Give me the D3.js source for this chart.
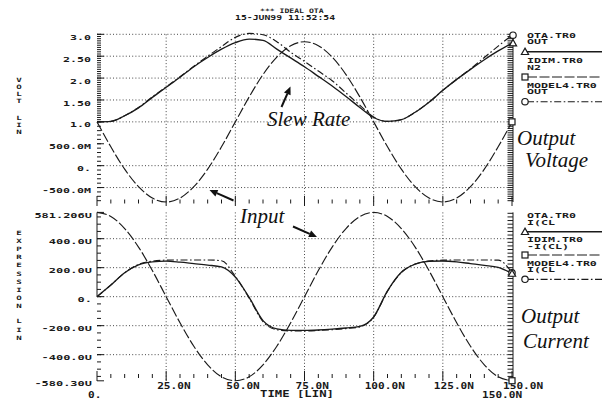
<!DOCTYPE html>
<html><head><meta charset="utf-8">
<script src="https://cdn.jsdelivr.net/npm/d3@7"></script>
<style>
html,body{margin:0;padding:0;background:#fff;}
svg{display:block;}
.mono{font-family:"DejaVu Sans Mono",monospace;font-weight:bold;fill:#1a1a1a;}
.ann{font-family:"Liberation Serif","Times New Roman",serif;font-style:italic;fill:#111;font-size:21px;}
</style></head><body>
<svg id="chart" width="602" height="401"></svg>
<script>
// ---- data ----
const time = [0,5,10,15,20,25,30,35,40,45,50,55,60,65,70,75,80,85,90,95,100,105,110,115,120,125,130,135,140,145,150];
const idimN2 = [1.00,0.43,-0.08,-0.48,-0.74,-0.83,-0.74,-0.48,-0.08,0.43,1.00,1.57,2.08,2.48,2.74,2.83,2.74,2.48,2.08,1.57,1.00,0.43,-0.08,-0.48,-0.74,-0.83,-0.74,-0.48,-0.08,0.43,1.00];
const otaOut = [1.00,1.01,1.14,1.32,1.56,1.79,2.02,2.26,2.47,2.66,2.81,2.89,2.86,2.66,2.46,2.26,2.04,1.82,1.58,1.33,1.10,1.01,1.05,1.22,1.45,1.72,1.97,2.20,2.42,2.62,2.80];
const model4Out = [1.00,1.01,1.14,1.33,1.57,1.80,2.03,2.27,2.50,2.72,2.93,3.02,2.99,2.83,2.59,2.38,2.16,1.94,1.66,1.38,1.11,1.01,1.05,1.22,1.45,1.72,1.97,2.21,2.47,2.73,2.98];
const otaI = [0,80,165,220,240,245,238,228,218,205,135,-5,-165,-222,-232,-233,-230,-224,-216,-205,-140,40,168,224,244,246,240,228,216,202,160];
const idimI = [581,553,470,342,180,0,-180,-342,-470,-553,-580,-553,-470,-342,-180,0,180,342,470,553,581,553,470,342,180,0,-180,-342,-470,-553,-580];
const model4I = [0,80,165,222,245,252,253,253,253,248,140,-10,-172,-228,-236,-236,-233,-228,-220,-208,-142,38,166,225,246,252,253,253,253,252,165];

const xTickVals = [25,50,75,100,125,150];
const xTickLabels = ["25.0N","50.0N","75.0N","100.0N","125.0N","150.0N"];
const topTickVals = [3.0,2.5,2.0,1.5,1.0,0.5,0,-0.5];
const topTickLabels = ["3.0","2.50","2.0","1.50","1.0","500.0M","0.","-500.0M"];
const topGridVals = [3.0,2.5,2.0,1.5,1.0,0,-0.5];
const botTickVals = [581.206,400,200,0,-200,-400,-580.3];
const botTickLabels = ["581.206U","400.0U","200.0U","0.","-200.0U","-400.0U","-580.30U"];
const botGridVals = [400,200,0,-200,-400];
const gridTimes = [25,50,75,100,125];

const svg = d3.select("#chart");
const ink = "#1a1a1a";

const x = d3.scaleLinear().domain([0,150]).range([97,512]);
const yTop = d3.scaleLinear().domain([-0.83,3.0]).range([202,34.3]);
const yBot = d3.scaleLinear().domain([-580.3,581.206]).range([380.8,212.4]);

function mono(str, px, py, size, cw, anchor) {
  const n = str.length;
  const sx = cw/(0.602*size);
  let x0 = px;
  if (anchor === "end") x0 = px - n*cw;
  else if (anchor === "middle") x0 = px - n*cw/2;
  svg.append("text").attr("class","mono")
    .attr("transform",`translate(${x0},${py}) scale(${sx},1)`)
    .attr("font-size",size).text(str);
}

// ---- grids ----
const grid = svg.append("g").attr("stroke","#333").attr("stroke-width",0.9).attr("stroke-dasharray","1,2.2");
topGridVals.forEach(v => grid.append("line").attr("x1",x(0)).attr("x2",x(150)).attr("y1",yTop(v)).attr("y2",yTop(v)));
gridTimes.forEach(t => grid.append("line").attr("x1",x(t)).attr("x2",x(t)).attr("y1",yTop(3.0)).attr("y2",yTop(-0.83)));
botGridVals.forEach(v => grid.append("line").attr("x1",x(0)).attr("x2",x(150)).attr("y1",yBot(v)).attr("y2",yBot(v)));
gridTimes.forEach(t => grid.append("line").attr("x1",x(t)).attr("x2",x(t)).attr("y1",yBot(581.206)).attr("y2",yBot(-580.3)));

// ---- axis ticks ----
const tk = svg.append("g").attr("stroke",ink).attr("stroke-width",1);
d3.range(0,151,5).forEach(t => {
  const major = t % 25 === 0;
  tk.append("line").attr("x1",x(t)).attr("x2",x(t)).attr("y1",major?196:199.5).attr("y2",major?206:203.5);
  tk.append("line").attr("x1",x(t)).attr("x2",x(t)).attr("y1",major?371:374).attr("y2",major?381:378);
});
d3.range(-0.8,3.001,0.05).forEach(v => {
  const vv = Math.round(v*100)/100;
  if (vv < 1 && Math.round(vv*100) % 10 !== 0) return;
  tk.append("line").attr("x1",x(0)).attr("x2",x(0)+4).attr("y1",yTop(vv)).attr("y2",yTop(vv));
});
topTickVals.forEach(v => tk.append("line").attr("x1",x(0)).attr("x2",x(0)+7).attr("y1",yTop(v)).attr("y2",yTop(v)));
d3.range(-0.8,3.001,0.05).forEach(v => tk.append("line").attr("x1",x(150)-4.5).attr("x2",x(150)+1).attr("y1",yTop(v)).attr("y2",yTop(v)));
tk.append("line").attr("x1",x(150)+1).attr("x2",x(150)+1).attr("y1",yTop(3.0)).attr("y2",yTop(-0.83));
d3.range(-550,581,50).forEach(v => tk.append("line").attr("x1",x(0)).attr("x2",x(0)+4).attr("y1",yBot(v)).attr("y2",yBot(v)));
botTickVals.forEach(v => tk.append("line").attr("x1",x(0)).attr("x2",x(0)+7).attr("y1",yBot(v)).attr("y2",yBot(v)));
tk.append("line").attr("x1",x(0)).attr("x2",x(0)).attr("y1",yBot(581.206)).attr("y2",yBot(0));
d3.range(-575,581,25).forEach(v => tk.append("line").attr("x1",x(150)-4.5).attr("x2",x(150)+1).attr("y1",yBot(v)).attr("y2",yBot(v)));
tk.append("line").attr("x1",x(150)+1).attr("x2",x(150)+1).attr("y1",yBot(581.206)).attr("y2",yBot(-580.3));

// ---- tick labels ----
topTickVals.forEach((v,i) => mono(topTickLabels[i], 91, yTop(v)+5.6, 7.3, 7, "end"));
botTickVals.forEach((v,i) => mono(botTickLabels[i], 92, yBot(v)+5.6, 7.3, 7.2, "end"));
xTickVals.forEach((t,i) => mono(xTickLabels[i], x(t)-9, 388.5, 8.2, 6.7, "start"));
mono("0.", 88, 397.5, 8.2, 6.7, "start");
mono("150.0N", 482, 397.5, 8.2, 6.7, "start");
mono("TIME [LIN]", 297, 396.5, 8.2, 7.4, "middle");

// vertical axis titles
const voltLetters = ["V","O","L","T","L","I","N"];
const voltY = [81.5,88.5,95.5,102.5,120,127,134];
voltLetters.forEach((c,i) => mono(c, 19, voltY[i], 6, 5.5, "middle"));
const exprLetters = "EXPRESSIONLIN".split("");
const exprY = [235,243.1,251.2,259.3,267.4,275.5,283.6,291.7,299.8,307.9,323,331.5,340];
exprLetters.forEach((c,i) => mono(c, 19, exprY[i], 6, 5.5, "middle"));

// title
mono("*** IDEAL OTA", 260, 13.2, 6.2, 4.9, "start");
mono("15-JUN99 11:52:54", 235, 20.3, 6.2, 5.9, "start");

// ---- series ----
const styles = {
  solid: {dash:null, w:1.35},
  dashed: {dash:"10,2.5", w:1.15},
  dashdot: {dash:"7,2.5,1.6,2.5", w:1.15}
};
function drawLine(vals, yS, st) {
  const line = d3.line().x((d,i)=>x(time[i])).y(d=>yS(d)).curve(d3.curveMonotoneX);
  svg.append("path").attr("d", line(vals)).attr("fill","none").attr("stroke",ink)
    .attr("stroke-width",styles[st].w).attr("stroke-dasharray",styles[st].dash)
    .attr("stroke-linejoin","round");
}
drawLine(idimN2, yTop, "dashed");
drawLine(model4Out, yTop, "dashdot");
drawLine(otaOut, yTop, "solid");
drawLine(idimI, yBot, "dashed");
drawLine(model4I, yBot, "dashdot");
drawLine(otaI, yBot, "solid");

// ---- markers ----
function marker(kind, cx, cy) {
  const g = svg.append("g").attr("fill","#fff").attr("stroke",ink).attr("stroke-width",1.2);
  if (kind === "tri") g.append("path").attr("d",`M${cx},${cy-3.6}L${cx+3.6},${cy+2.8}L${cx-3.6},${cy+2.8}Z`);
  else if (kind === "sq") g.append("rect").attr("x",cx-3).attr("y",cy-3).attr("width",6).attr("height",6);
  else g.append("circle").attr("cx",cx).attr("cy",cy).attr("r",3.2);
}
const last = time.length-1;
marker("circ", x(150)+1, yTop(model4Out[last]));
marker("tri", x(150)+1, yTop(otaOut[last]));
marker("sq", x(150), yTop(idimN2[last]));
marker("sq", x(150), yBot(idimI[last]));
marker("circ", x(150), yBot(model4I[last]));
marker("tri", x(150), yBot(otaI[last]));

// ---- legends ----
function legendRow(lines, textY, markY, kind, st) {
  mono(lines[0], 527, textY, 6.2, 7, "start");
  mono(lines[1], 527, textY+6.8, 6.2, 7, "start");
  svg.append("line").attr("x1",527).attr("x2",602).attr("y1",markY).attr("y2",markY)
    .attr("stroke",ink).attr("stroke-width",styles[st].w).attr("stroke-dasharray",styles[st].dash);
  marker(kind, 525, markY);
}
legendRow(["OTA.TR0","OUT"], 37.5, 51.7, "tri", "solid");
legendRow(["IDIM.TR0","N2"], 63, 77, "sq", "dashed");
legendRow(["MODEL4.TR0","OUT"], 87.5, 101.7, "circ", "dashdot");
legendRow(["OTA.TR0","I(CL"], 218, 231.7, "tri", "solid");
legendRow(["IDIM.TR0","-I(CL)"], 242, 255, "sq", "dashed");
legendRow(["MODEL4.TR0","I(CL"], 265.5, 279.3, "circ", "dashdot");

// ---- annotations ----
svg.append("text").attr("class","ann").attr("x",267).attr("y",126).text("Slew Rate");
svg.append("text").attr("class","ann").attr("x",240).attr("y",222.5).text("Input");
svg.append("text").attr("class","ann").attr("x",517).attr("y",144.5).text("Output");
svg.append("text").attr("class","ann").attr("x",525).attr("y",166.5).text("Voltage");
svg.append("text").attr("class","ann").attr("x",521).attr("y",323).text("Output");
svg.append("text").attr("class","ann").attr("x",523).attr("y",348).text("Current");

function arrow(x1,y1,x2,y2) {
  const a = Math.atan2(y2-y1, x2-x1), L = 8, W = 3.6;
  const bx = x2 - L*Math.cos(a), by = y2 - L*Math.sin(a);
  svg.append("line").attr("x1",x1).attr("y1",y1).attr("x2",bx).attr("y2",by)
    .attr("stroke","#111").attr("stroke-width",2);
  svg.append("path").attr("fill","#111")
    .attr("d",`M${x2},${y2}L${bx - W*Math.sin(a)},${by + W*Math.cos(a)}L${bx + W*Math.sin(a)},${by - W*Math.cos(a)}Z`);
}
arrow(281.5,107,290.5,86.5);
arrow(233.5,200.5,209.5,190);
arrow(293,226.5,317,237);
</script>
</body></html>
